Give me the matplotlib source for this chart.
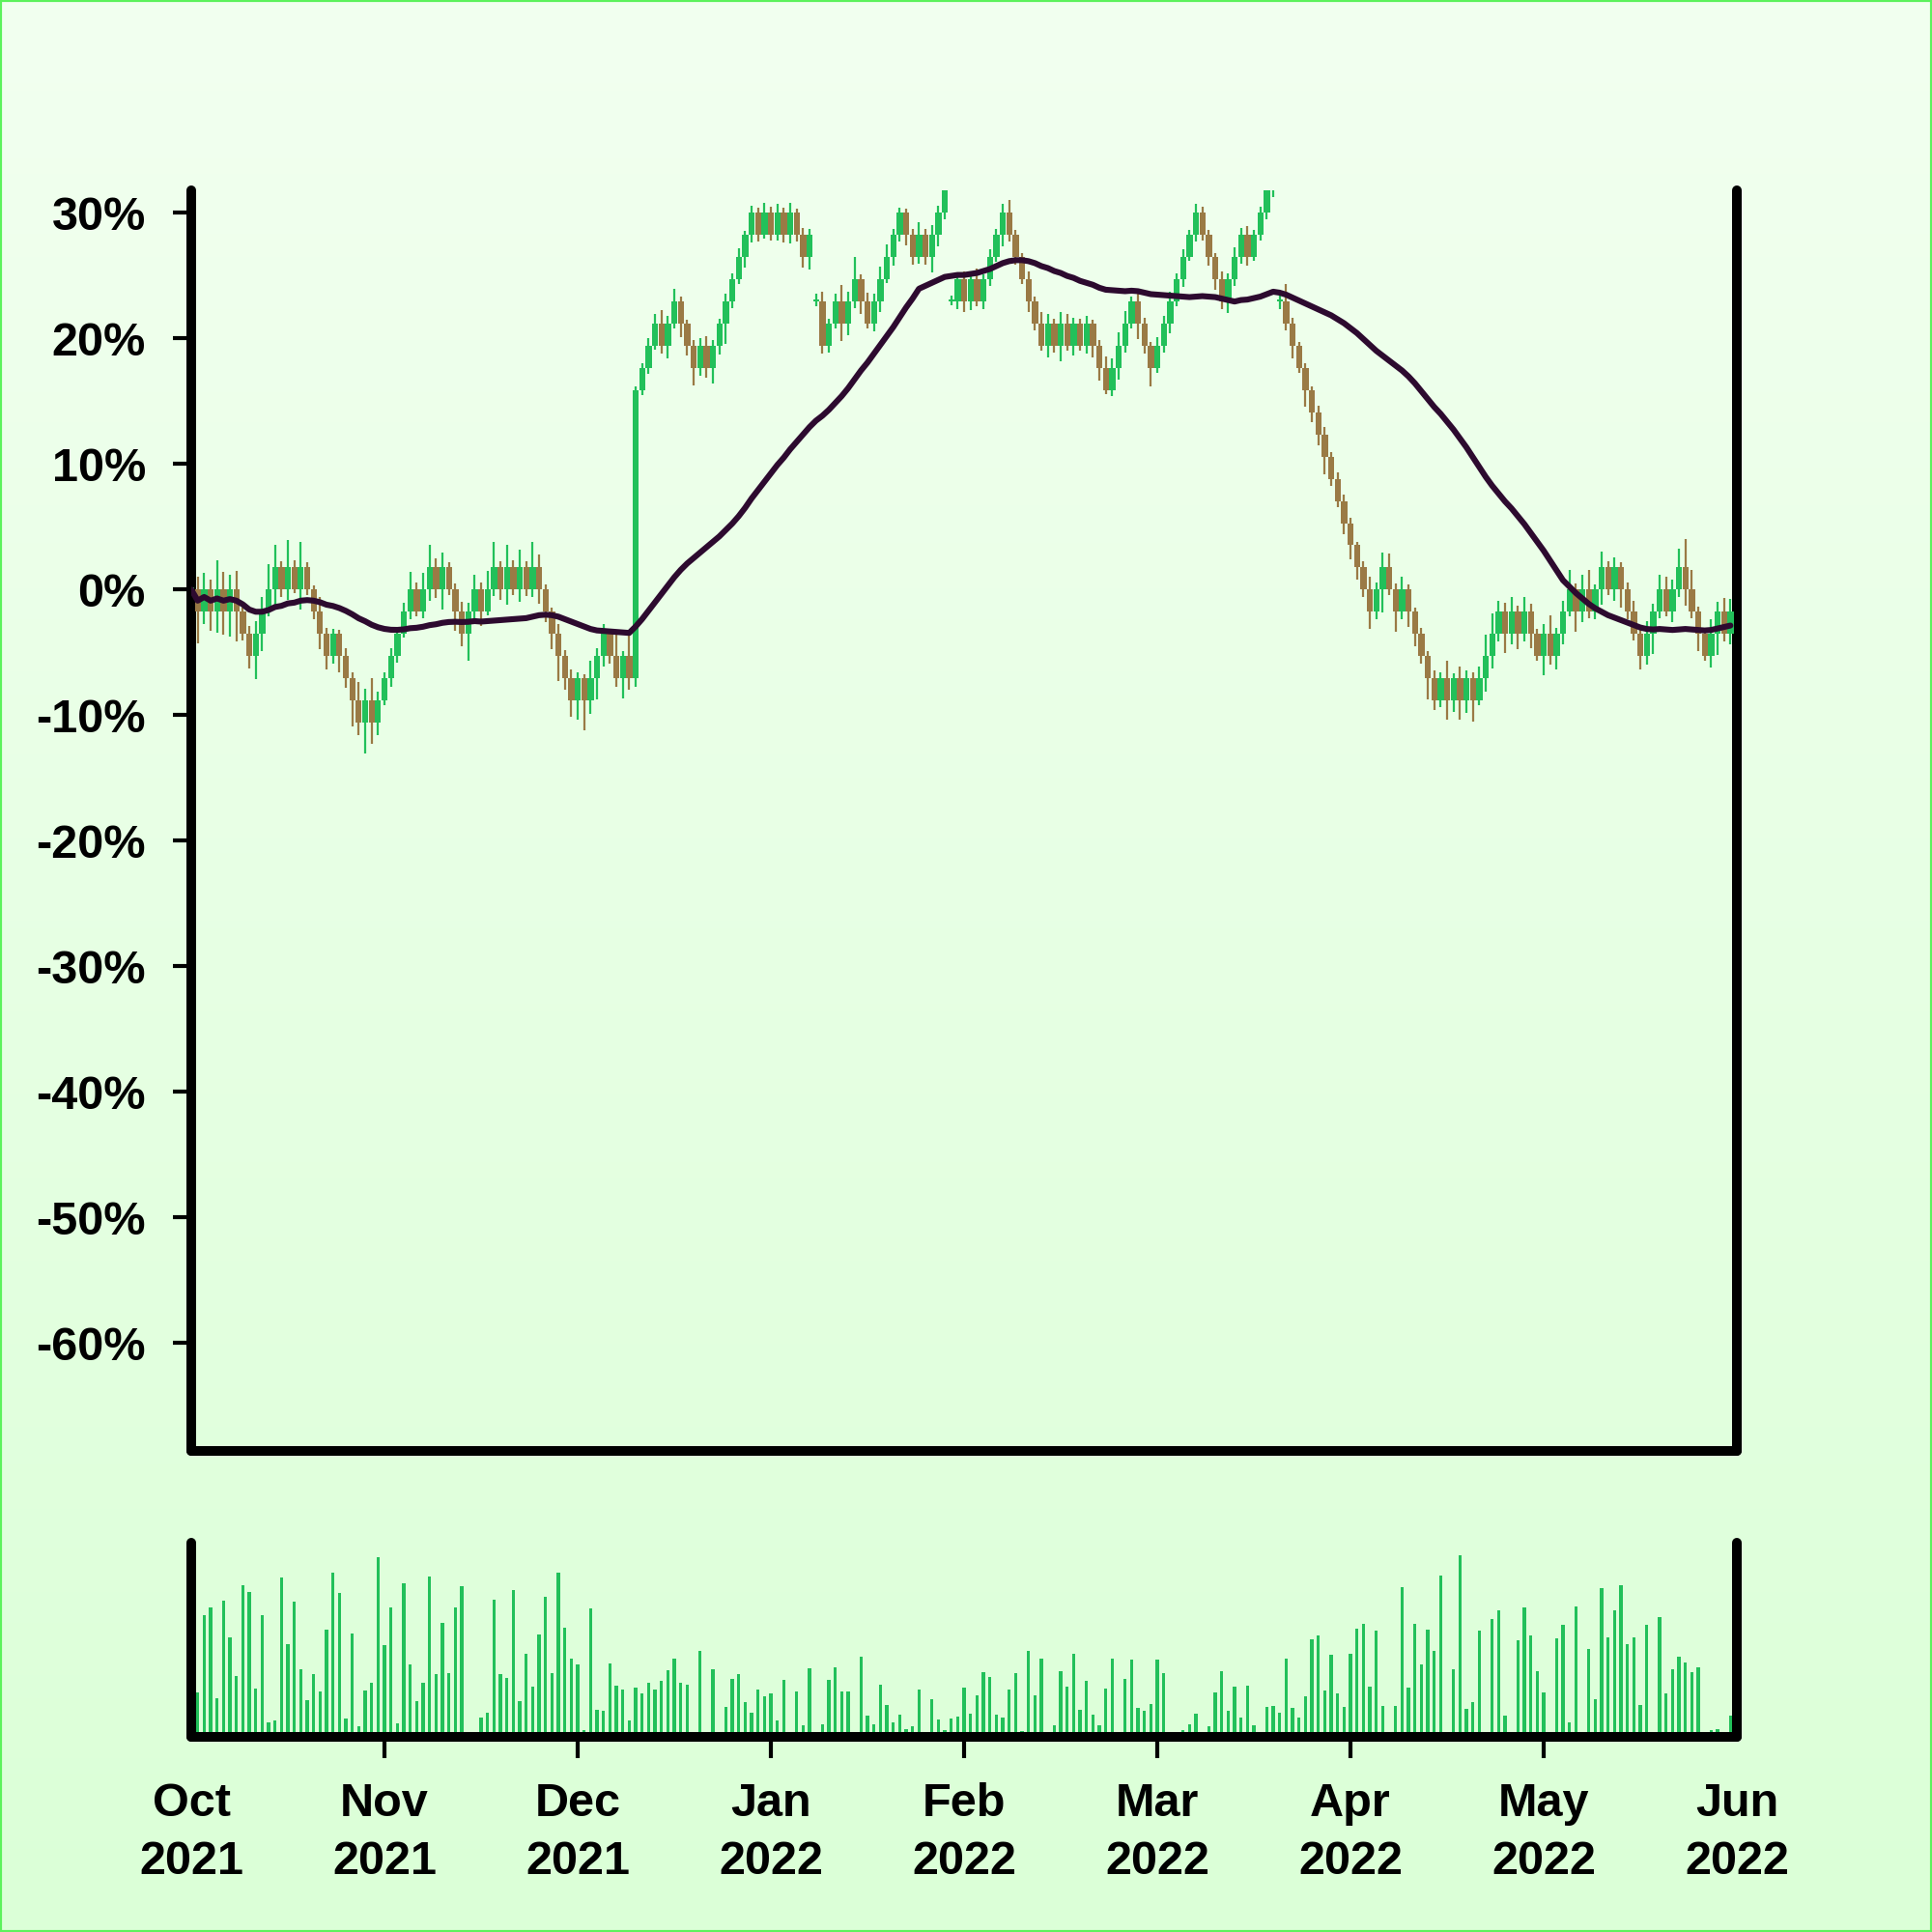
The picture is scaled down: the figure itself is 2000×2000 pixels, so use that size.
import matplotlib
matplotlib.use("Agg")
import matplotlib.pyplot as plt
from matplotlib.patches import Rectangle
from matplotlib.ticker import FuncFormatter
import numpy as np
import pandas as pd

# daily closes, in price ticks away from the reference level (1 tick = 30/17 %)
close_ticks = [
    0, -1, 0, -1, 0, -1, 0, -1, -2, -3, -2, -1, 0, 1, 0, 1, 0, 1, 0, -1, -2, -3, -2, -3, -4, -5, -6, -5, -6, -5,
    -4, -3, -2, -1, 0, -1, 0, 1, 0, 1, 0, -1, -2, -1, 0, -1, 0, 1, 0, 1, 0, 1, 0, 1, 0, -1, -2, -3, -4, -5,
    -4, -5, -4, -3, -2, -3, -4, -3, -4, 9, 10, 11, 12, 11, 12, 13, 12, 11, 10, 11, 10, 11, 12, 13, 14, 15, 16, 17, 16, 17,
    16, 17, 16, 17, 16, 15, 16, 13, 11, 12, 13, 12, 13, 14, 13, 12, 13, 14, 15, 16, 17, 16, 15, 16, 15, 16, 17, 18, 13, 14,
    13, 14, 13, 14, 15, 16, 17, 16, 15, 14, 13, 12, 11, 12, 11, 12, 11, 12, 11, 12, 11, 10, 9, 10, 11, 12, 13, 12, 11, 10,
    11, 12, 13, 14, 15, 16, 17, 16, 15, 14, 13, 14, 15, 16, 15, 16, 17, 18, 19, 13, 12, 11, 10, 9, 8, 7, 6, 5, 4, 3,
    2, 1, 0, -1, 0, 1, 0, -1, 0, -1, -2, -3, -4, -5, -4, -5, -4, -5, -4, -5, -4, -3, -2, -1, -2, -1, -2, -1, -2, -3,
    -2, -3, -2, -1, 0, -1, 0, -1, 0, 1, 0, 1, 0, -1, -2, -3, -2, -1, 0, -1, 0, 1, 0, -1, -2, -3, -2, -1, -2, -1,
]
# candles that opened where they closed, after a price gap
gap_days = [97, 118, 169]

# wick length above / below the body, in %
wick_up = [
    1.0, 1.0, 1.3, 0.8, 2.3, 1.4, 1.2, 1.5, 0.3, 0.6, 1.0, 1.2, 2.0, 1.8, 0.5, 2.2, 0.6, 2.0, 0.4, 0.3, 1.2, 0.5, 0.4, 0.3, 0.6, 0.5, 1.5, 0.9, 1.8, 0.7,
    0.5, 0.6, 0.4, 0.7, 1.4, 0.6, 1.3, 1.8, 0.7, 1.2, 0.4, 0.5, 0.8, 0.7, 1.2, 0.6, 1.5, 2.0, 0.5, 1.8, 0.6, 1.4, 0.5, 2.0, 1.0, 0.4, 0.3, 0.8, 0.5, 0.7,
    0.5, 0.3, 1.4, 0.6, 0.8, 0.4, 2.0, 0.4, 1.6, 0.3, 0.4, 0.6, 0.8, 1.1, 0.6, 1.0, 0.4, 0.3, 0.5, 0.6, 0.8, 0.5, 0.4, 0.6, 0.5, 0.7, 0.3, 0.6, 0.4, 0.8,
    0.5, 0.7, 0.4, 0.8, 0.3, 0.6, 0.5, 0.6, 0.8, 0.4, 0.6, 1.3, 0.8, 1.8, 0.4, 0.7, 0.6, 1.0, 1.0, 0.5, 0.4, 0.3, 0.5, 1.0, 0.5, 0.8, 0.6, 0.7, 0.5, 0.4,
    0.6, 0.5, 0.9, 0.4, 0.6, 0.5, 0.7, 1.0, 0.4, 0.3, 0.6, 0.4, 0.9, 0.8, 0.4, 0.9, 0.8, 0.5, 0.4, 0.6, 0.3, 0.5, 0.9, 0.8, 1.1, 1.0, 0.4, 0.7, 0.5, 0.3,
    0.7, 0.6, 0.8, 0.5, 0.6, 0.4, 0.7, 0.5, 0.4, 0.3, 0.6, 0.5, 0.8, 0.6, 0.7, 0.4, 0.5, 0.3, 0.5, 0.6, 1.4, 0.5, 0.3, 0.4, 0.3, 0.5, 0.6, 0.4, 0.5, 0.5,
    0.4, 0.3, 0.5, 1.0, 0.6, 1.2, 1.1, 0.5, 1.0, 0.4, 0.3, 0.5, 0.4, 0.6, 0.5, 1.4, 0.4, 0.9, 0.6, 0.5, 0.9, 1.7, 1.6, 0.9, 0.7, 1.2, 0.5, 1.2, 0.6, 0.4,
    0.8, 1.5, 0.5, 0.9, 1.6, 0.5, 1.2, 1.6, 0.4, 1.3, 0.5, 0.8, 0.4, 0.6, 0.9, 0.3, 1.0, 0.6, 1.2, 1.0, 0.8, 1.5, 2.3, 1.6, 0.4, 0.3, 1.2, 0.8, 1.1, 1.0,
]
wick_down = [
    0.6, 2.5, 1.0, 1.5, 1.7, 1.8, 2.0, 2.4, 0.5, 1.0, 1.8, 1.4, 0.4, 1.2, 0.6, 0.8, 0.3, 1.6, 0.4, 0.6, 1.2, 1.1, 0.6, 1.3, 0.8, 2.1, 1.0, 2.5, 1.7, 1.0,
    0.4, 0.7, 0.5, 0.3, 0.6, 0.4, 0.5, 0.9, 0.7, 1.6, 0.4, 1.5, 1.0, 2.1, 0.6, 1.1, 0.3, 0.5, 0.8, 1.2, 0.4, 1.0, 0.5, 0.6, 1.1, 0.8, 1.2, 2.0, 0.9, 1.3,
    1.5, 2.4, 1.1, 1.7, 0.8, 0.6, 0.7, 1.6, 0.9, 0.7, 0.4, 0.5, 0.3, 0.6, 1.0, 0.4, 1.1, 0.8, 1.4, 0.6, 0.8, 1.2, 0.7, 1.6, 0.5, 0.4, 0.8, 0.6, 0.5, 0.3,
    0.4, 0.4, 0.6, 0.7, 0.5, 0.8, 1.0, 0.4, 0.6, 0.5, 0.4, 1.4, 0.9, 0.5, 1.0, 0.4, 0.6, 0.8, 0.3, 0.7, 0.5, 0.8, 0.6, 0.5, 0.6, 1.2, 0.9, 0.5, 0.3, 0.6,
    0.8, 0.7, 0.4, 0.6, 0.5, 0.4, 0.9, 0.5, 0.6, 0.4, 0.8, 0.5, 0.4, 0.9, 0.5, 1.2, 0.4, 0.8, 0.4, 0.6, 0.9, 1.0, 0.3, 0.5, 0.9, 0.5, 0.4, 1.2, 0.6, 1.5,
    0.4, 0.5, 0.8, 0.4, 0.6, 0.3, 0.5, 0.4, 0.7, 0.8, 0.6, 0.9, 0.5, 0.5, 0.7, 0.3, 0.4, 0.5, 0.5, 0.6, 0.5, 1.0, 0.4, 1.3, 0.8, 0.9, 1.4, 0.6, 0.5, 0.9,
    1.1, 1.0, 0.6, 1.4, 0.6, 1.8, 0.4, 1.6, 0.6, 1.2, 1.0, 0.6, 1.7, 0.8, 0.5, 1.5, 0.9, 1.5, 1.0, 1.7, 0.4, 1.1, 1.0, 0.6, 1.5, 0.8, 1.2, 0.6, 1.1, 0.4,
    1.5, 0.7, 1.1, 0.8, 0.4, 1.6, 0.8, 0.5, 0.6, 1.2, 0.4, 0.9, 1.4, 0.6, 0.5, 1.1, 0.7, 1.6, 0.5, 0.4, 0.8, 0.6, 1.3, 0.5, 1.4, 0.4, 0.9, 1.7, 0.6, 0.8,
]

# daily volume, in % of the panel height
volume = [
    20.0,
    22.9, 62.6, 66.8, 20.1, 70.2, 51.3, 31.3, 77.9, 74.5, 25.1, 62.6, 7.5, 8.7, 81.9, 47.7, 69.8, 34.7, 19.1, 32.2, 23.3,
    55.3, 84.4, 74.0, 9.5, 53.1, 5.4, 23.8, 28.0, 92.5, 47.2, 66.8, 7.0, 79.1, 37.2, 18.3, 28.0, 82.7, 32.2, 58.6,
    32.7, 66.8, 77.7, 1.2, 2.3, 10.1, 12.6, 70.7, 32.2, 30.2, 75.4, 18.3, 42.7, 26.0, 52.8, 71.9, 33.0, 84.4, 56.4, 40.2,
    37.5, 3.7, 66.0, 14.1, 13.2, 38.0, 26.3, 24.5, 8.7, 25.5, 22.6, 28.0, 24.5, 29.1, 34.2, 40.5, 27.8, 27.1, 0, 44.4, 0.7,
    35.0, 0, 15.4, 30.0, 32.2,
    18.1, 12.5, 24.5, 21.0, 22.3, 8.5, 29.4, 0, 23.2, 5.9, 35.5, 0, 6.3, 29.4, 35.9, 23.5, 23.2, 1.9, 41.5,
    11.0, 6.6, 26.7, 16.4, 7.4, 11.3, 3.9, 5.6, 24.5, 0.3, 19.5, 9.0, 3.4, 9.3, 10.5, 25.2, 11.8, 21.5, 33.3, 30.6, 11.3, 10.0,
    24.2, 32.8, 3.2, 44.2, 21.5, 40.3, 0.8, 5.9, 33.7, 25.9, 43.0, 13.9, 28.8, 11.3, 6.1, 24.7, 40.4, 1.7, 29.9, 39.6, 15.1,
    13.5, 17.1, 39.9,
    33.0, 0, 0, 3.4, 6.4, 11.9, 0, 5.7, 22.9, 33.8, 13.4, 26.0, 9.9, 26.3, 5.9, 0, 15.6,
    15.7, 12.6, 40.5, 15.1, 10.1, 20.8, 50.3, 52.1, 24.0, 42.5, 22.3, 15.6, 43.0, 55.9, 58.3, 26.1, 54.6, 16.1, 0,
    15.9, 77.1, 25.3, 58.1, 37.5, 55.1, 44.2, 83.2, 1.5, 35.0, 93.3, 14.2, 17.9, 54.9, 2.3,
    60.6, 65.0, 10.9, 1.0, 49.6, 66.8, 52.4, 33.7, 23.1, 1.5, 50.6, 57.5, 7.7, 67.2, 0.8, 45.1, 19.6, 76.4,
    51.4, 65.2, 78.1, 47.7, 51.1, 16.4, 57.6, 2.7, 61.8, 22.4, 35.0, 41.5, 38.5, 33.3, 35.8, 0, 3.4, 4.0, 0, 10.7,
]

month_labels = ["Oct\n2021", "Nov\n2021", "Dec\n2021", "Jan\n2022", "Feb\n2022",
                "Mar\n2022", "Apr\n2022", "May\n2022", "Jun\n2022"]
y_ticks = [30, 20, 10, 0, -10, -20, -30, -40, -50, -60]

UP = "#22c05a"
DOWN = "#9a7a45"
MA_COLOR = "#2d0a2f"
TICK_PCT = 30 / 17

plt.rcParams["font.family"] = ["Liberation Sans", "DejaVu Sans"]
plt.rcParams["font.weight"] = "bold"

n = len(close_ticks)
x = np.arange(n)
close = np.array(close_ticks, dtype=float) * TICK_PCT
open_ = np.r_[0.0, close[:-1]]
open_[gap_days] = close[gap_days]
high = np.maximum(open_, close) + np.array(wick_up)
low = np.minimum(open_, close) - np.array(wick_down)
ma = pd.Series(close).rolling(45, min_periods=1).mean()
colors = np.where(close >= open_, UP, DOWN)
month_pos = np.linspace(0, n, len(month_labels))

fig = plt.figure(figsize=(10, 10), dpi=200)

# background gradient and thin border
bg = fig.add_axes([0, 0, 1, 1], zorder=-10)
top_c = np.array([242, 255, 240]) / 255
bot_c = np.array([219, 255, 215]) / 255
t = np.linspace(0, 1, 256)[:, None, None]
bg.imshow(top_c + (bot_c - top_c) * t, aspect="auto", extent=[0, 1, 0, 1])
bg.axis("off")
fig.add_artist(Rectangle((0, 0), 1, 1, transform=fig.transFigure, fill=False,
                         ec="#5cf25c", lw=1.5))


def style(ax):
    ax.patch.set_alpha(0)
    ax.spines["top"].set_visible(False)
    for s in ["left", "right", "bottom"]:
        ax.spines[s].set_linewidth(3.6)
        ax.spines[s].set_capstyle("round")
    ax.set_xlim(0, n)


# price panel
ax = fig.add_axes([0.099, 0.249, 0.8, 0.6525])
style(ax)
ax.vlines(x, low, high, colors=colors, lw=0.8, zorder=2)
body = np.maximum(np.abs(close - open_), 0.15)
ax.bar(x, body, bottom=np.minimum(open_, close), width=0.95, color=colors,
       lw=0, zorder=3)
ax.plot(x, ma, color=MA_COLOR, lw=2.2, zorder=4, solid_capstyle="round")
ax.set_ylim(-68.6, 31.8)
ax.set_yticks(y_ticks)
ax.yaxis.set_major_formatter(FuncFormatter(lambda v, p: f"{v:.0f}%"))
ax.tick_params(axis="y", length=7, width=1.5, pad=10, labelsize=17.5)
ax.tick_params(axis="x", length=0, labelbottom=False)

# volume panel
axv = fig.add_axes([0.099, 0.101, 0.8, 0.1005])
style(axv)
axv.bar(x, volume, width=0.5, color=UP, lw=0)
axv.set_ylim(0, 100)
axv.set_yticks([])
axv.set_xticks(month_pos)
axv.set_xticklabels(month_labels, linespacing=1.42)
axv.tick_params(axis="x", length=8, width=1.5, pad=9, labelsize=17.5)
ticks = axv.xaxis.get_major_ticks()
ticks[0].tick1line.set_visible(False)
ticks[-1].tick1line.set_visible(False)

fig.savefig("out.png", dpi=200)
